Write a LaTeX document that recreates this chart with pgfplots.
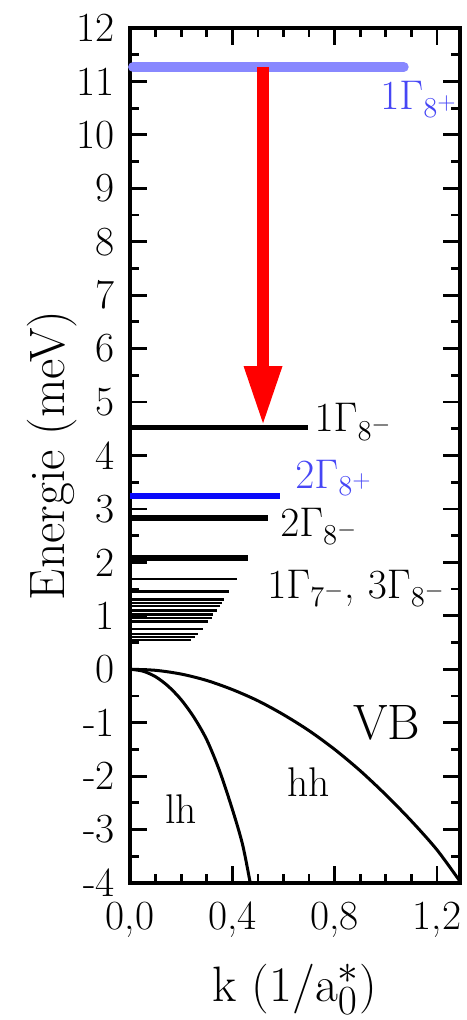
\documentclass[border=0pt]{standalone}
\usepackage{pgfplots}
\pgfplotsset{compat=1.18}
\usetikzlibrary{arrows.meta}
\definecolor{lviolet}{RGB}{136,136,255}
\definecolor{lblue}{RGB}{70,70,245}
\definecolor{pblue}{RGB}{10,10,250}
\begin{document}
\begin{tikzpicture}
\begin{axis}[
 scale only axis, width=165pt, height=427.5pt,
 xmin=0, xmax=1.29, ymin=-4, ymax=12,
 xtick={0,0.4,0.8,1.2}, xticklabels={{0,0},{0,4},{0,8},{1,2}},
 minor x tick num=3,
 ytick={-4,-3,-2,-1,0,1,2,3,4,5,6,7,8,9,10,11,12},
 yticklabels={-4,-3,-2,-1,0,1,2,3,4,5,6,7,8,9,10,11,12},
 minor y tick num=1,
 tick align=inside,
 major tick length=8.5pt, minor tick length=4.5pt,
 every tick/.style={black, line width=1.4pt},
 axis line style={line width=2pt},
 tick label style={font=\fontsize{20.74}{24}\selectfont},
 yticklabel style={xshift=-4pt},
 xticklabel style={yshift=-6pt},
 label style={font=\fontsize{24.88}{28}\selectfont},
 xlabel={k (1/a$_0^*$)}, ylabel={Energie (meV)},
 xlabel style={at={(axis description cs:0.5,-0.139)}, anchor=base},
 ylabel style={at={(axis description cs:-0.197,0.5)}, anchor=base},
 clip=false,
]
\coordinate (SW) at (rel axis cs:0,0);
\coordinate (NE) at (rel axis cs:1,1);
% top level
\addplot[lviolet, line width=5pt, line cap=round] coordinates {(0.012,11.27) (1.07,11.27)};
% transition arrow
\addplot[red, line width=6pt, -{Triangle[width=17.5pt,length=30pt]}] coordinates {(0.52,11.27) (0.52,4.55)};
% levels
\addplot[black, line width=2.5pt] coordinates {(0,4.53) (0.695,4.53)};
\addplot[pblue, line width=3pt] coordinates {(0,3.24) (0.586,3.24)};
\addplot[black, line width=3.2pt] coordinates {(0,2.83) (0.54,2.83)};
\addplot[black, line width=3pt] coordinates {(0,2.08) (0.461,2.08)};
\addplot[black, line width=1.3pt] coordinates {(0,1.69) (0.418,1.69)};
\addplot[black, line width=1.3pt] coordinates {(0,1.45) (0.387,1.45)};
\addplot[black, line width=1.3pt] coordinates {(0,1.31) (0.367,1.31)};
\addplot[black, line width=1.3pt] coordinates {(0,1.24) (0.358,1.24)};
\addplot[black, line width=1.3pt] coordinates {(0,1.18) (0.352,1.18)};
\addplot[black, line width=1.3pt] coordinates {(0,1.10) (0.340,1.10)};
\addplot[black, line width=1.3pt] coordinates {(0,1.03) (0.325,1.03)};
\addplot[black, line width=1.3pt] coordinates {(0,0.96) (0.320,0.96)};
\addplot[black, line width=1.3pt] coordinates {(0,0.89) (0.305,0.89)};
\addplot[black, line width=1.3pt] coordinates {(0,0.75) (0.285,0.75)};
\addplot[black, line width=1.3pt] coordinates {(0,0.66) (0.266,0.66)};
\addplot[black, line width=1.3pt] coordinates {(0,0.60) (0.254,0.60)};
\addplot[black, line width=1.3pt] coordinates {(0,0.55) (0.240,0.55)};
% valence bands
\addplot[black, line width=1.5pt, smooth] coordinates {(0,0) (0.1,-0.02) (0.2,-0.09) (0.3,-0.21) (0.4,-0.38) (0.5,-0.59) (0.6,-0.85) (0.7,-1.15) (0.8,-1.5) (0.9,-1.9) (1.0,-2.35) (1.1,-2.84) (1.2,-3.38) (1.29,-3.97)};
\addplot[black, line width=1.5pt, smooth] coordinates {(0,0) (0.05,-0.035) (0.1,-0.14) (0.15,-0.32) (0.2,-0.57) (0.25,-0.9) (0.3,-1.32) (0.35,-1.9) (0.4,-2.62) (0.44,-3.28) (0.47,-4.0)};
% labels
\begin{scope}[every node/.style={anchor=base west, inner sep=0pt, font=\fontsize{20.74}{24}\selectfont}]
\node[text=lblue] at (axis cs:0.977,10.47) {$1\Gamma_{8^+}$};
\node at (axis cs:0.72,4.44) {$1\Gamma_{8^-}$};
\node[text=lblue] at (axis cs:0.645,3.39) {$2\Gamma_{8^+}$};
\node at (axis cs:0.586,2.48) {$2\Gamma_{8^-}$};
\node at (axis cs:0.535,1.33) {$1\Gamma_{7^-}$, $3\Gamma_{8^-}$};
\node[font=\fontsize{24.88}{28}\selectfont] at (axis cs:0.871,-1.32) {VB};
\node at (axis cs:0.613,-2.39) {hh};
\node at (axis cs:0.137,-2.88) {lh};
\end{scope}
\end{axis}
\pgfresetboundingbox
\path[use as bounding box] ([xshift=-65pt,yshift=-68.5pt]SW) rectangle ([xshift=3pt,yshift=14pt]NE);
\end{tikzpicture}
\end{document}
